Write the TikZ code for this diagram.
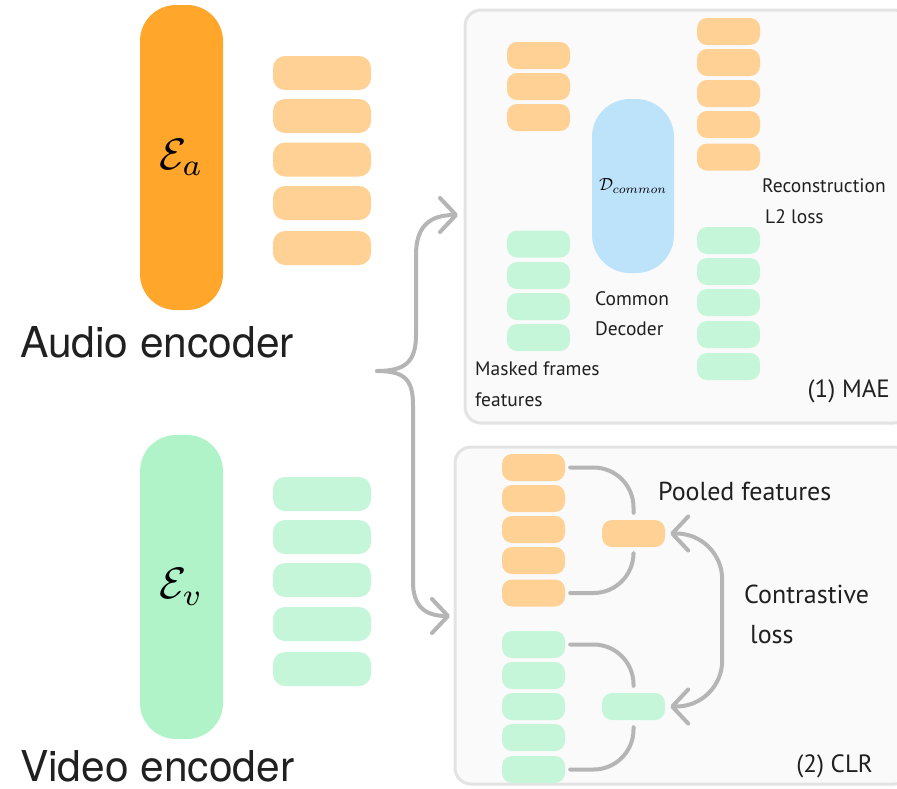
\documentclass[tikz,border=0pt]{standalone}
\usepackage{graphicx}
\usepackage{fontspec}
\setmainfont{PT Sans}
\newfontfamily\helv{TeX Gyre Heros}
\usetikzlibrary{arrows.meta,calc}
\definecolor{encA}{HTML}{FFA62B}
\definecolor{featA}{HTML}{FFD194}
\definecolor{encV}{HTML}{B0F3C9}
\definecolor{featV}{HTML}{C6F6D9}
\definecolor{decB}{HTML}{BDE3FB}
\definecolor{panelF}{HTML}{FAFAFA}
\definecolor{panelD}{HTML}{E3E3E3}
\definecolor{lineG}{HTML}{B5B5B5}
\definecolor{txt}{HTML}{202020}
\tikzset{
  enc/.style={rectangle, rounded corners=36pt, minimum width=83pt, inner sep=0pt, draw=none},
  bigfeat/.style={rectangle, rounded corners=12pt, minimum width=98pt, minimum height=34pt, inner sep=0pt, draw=none},
  feat/.style={rectangle, rounded corners=10pt, minimum width=63pt, minimum height=27pt, inner sep=0pt, draw=none},
  panel/.style={draw=panelD, line width=3pt, fill=panelF, rounded corners=16pt},
  gline/.style={draw=lineG, line width=4pt, line cap=round, line join=round},
  barb/.tip={Straight Barb[length=16pt,width=34pt,round]},
  lbl/.style={inner sep=0pt, text=txt, font=\fontsize{19.5}{22}\selectfont},
  mlbl/.style={inner sep=0pt, text=txt, font=\fontsize{25}{28}\selectfont},
  enclbl/.style={inner sep=0pt, text=txt, font=\helv\fontsize{42.5}{46}\selectfont},
}
\begin{document}
\begin{tikzpicture}[x=1pt,y=-1pt]
\clip (0,0) rectangle (897,788);
\fill[white] (0,0) rectangle (897,788);

% panels
\draw[panel] (465,10) rectangle (910,423);
\node[inner sep=0pt, minimum width=0pt] (mae) at (465,216) {};
\draw[panel] (455,447) rectangle (910,784);
\node[inner sep=0pt] (clr) at (455,615) {};

% encoders
\node[enc, fill=encA, minimum height=305pt] (ea) at (181.5,157.5) {\raisebox{-6pt}{\scalebox{4.4}{$\mathcal{E}_a$}}};
\node[enc, fill=encV, minimum height=304pt] (ev) at (181.5,587) {\raisebox{-6pt}{\scalebox{4.4}{$\mathcal{E}_v$}}};
\node[enclbl, anchor=base west] (alab) at (20,357) {Audio encoder};
\node[enclbl, anchor=base west] (vlab) at (20,781) {Video encoder};

% encoder features
\foreach \y [count=\i] in {73,116,159.5,203,248} {
  \node[bigfeat, fill=featA] (af\i) at (322,\y) {};
}
\foreach \y [count=\i] in {494,537,580,624,669} {
  \node[bigfeat, fill=featV] (vf\i) at (322,\y) {};
}

% MAE
\foreach \y [count=\i] in {55.5,86.5,117.5} {
  \node[feat, fill=featA] (mlo\i) at (538.5,\y) {};
}
\foreach \y [count=\i] in {244,275.5,306.5,337.5} {
  \node[feat, fill=featV] (mlg\i) at (538.5,\y) {};
}
\node[enc, fill=decB, minimum width=82pt, minimum height=174pt, rounded corners=38pt] (dec) at (633,186) {\scalebox{1.75}{$\mathcal{D}_{common}$}};
\foreach \y [count=\i] in {31.5,62.5,93.5,124.5,157} {
  \node[feat, fill=featA] (mro\i) at (728.5,\y) {};
}
\foreach \y [count=\i] in {240.5,271.5,302.5,334.5,366.5} {
  \node[feat, fill=featV] (mrg\i) at (728.5,\y) {};
}
\node[lbl, anchor=base west] (rec) at (762,192) {Reconstruction};
\node[lbl, anchor=base west] (l2) at (765,223) {L2 loss};
\node[lbl, anchor=base west] (cd1) at (595,305) {Common};
\node[lbl, anchor=base west] (cd2) at (595,335) {Decoder};
\node[lbl, anchor=base west] (mf1) at (475,375) {Masked frames};
\node[lbl, anchor=base west] (mf2) at (475,406) {features};
\node[mlbl, anchor=base east] (maet) at (890,397) {(1) MAE};

% CLR
\foreach \y [count=\i] in {467.5,498.5,529.5,560.5,593} {
  \node[feat, fill=featA] (co\i) at (533.5,\y) {};
}
\foreach \y [count=\i] in {644.5,675.5,706.5,737.5,769.5} {
  \node[feat, fill=featV] (cg\i) at (533.5,\y) {};
}
\node[feat, fill=featA] (pa) at (633.5,533.5) {};
\node[feat, fill=featV] (pg) at (633.5,706.5) {};

\draw[gline, rounded corners=40pt] ([xshift=5pt]co1.east) -| ([yshift=7pt]pa.north);
\draw[gline, rounded corners=40pt] ([xshift=5pt]co5.east) -| ([yshift=-7pt]pa.south);
\draw[gline, rounded corners=40pt] ([xshift=5pt]cg1.east) -| ([yshift=7pt]pg.north);
\draw[gline, rounded corners=40pt] ([xshift=5pt]cg5.east) -| ([yshift=-7pt]pg.south);
\draw[gline, barb-barb, rounded corners=46pt] ([xshift=5pt]pa.east) -- ++(52,0) |- ([xshift=5pt]pg.east);

\node[mlbl, font=\fontsize{26}{30}\selectfont, anchor=base west] (pf) at (658,500) {Pooled features};
\node[mlbl, font=\fontsize{26}{30}\selectfont, anchor=base west] (ct1) at (744,603) {Contrastive};
\node[mlbl, font=\fontsize{26}{30}\selectfont, anchor=base west] (ct2) at (750,643) {loss};
\node[mlbl, anchor=base east] (clrt) at (873,772) {(2) CLR};

% brace
\coordinate (bt) at (377,371);
\coordinate (bmae) at (458,215);
\coordinate (bclr) at (450,616);
\draw[gline, -barb] (bt) .. controls (405,371) and (416,362) .. (416,335) -- (416,255) .. controls (416,226) and (430,215) .. (bmae);
\draw[gline, -barb] (bt) .. controls (405,371) and (413,380) .. (413,405) -- (413,582) .. controls (413,606) and (425,616) .. (bclr);
\end{tikzpicture}
\end{document}
